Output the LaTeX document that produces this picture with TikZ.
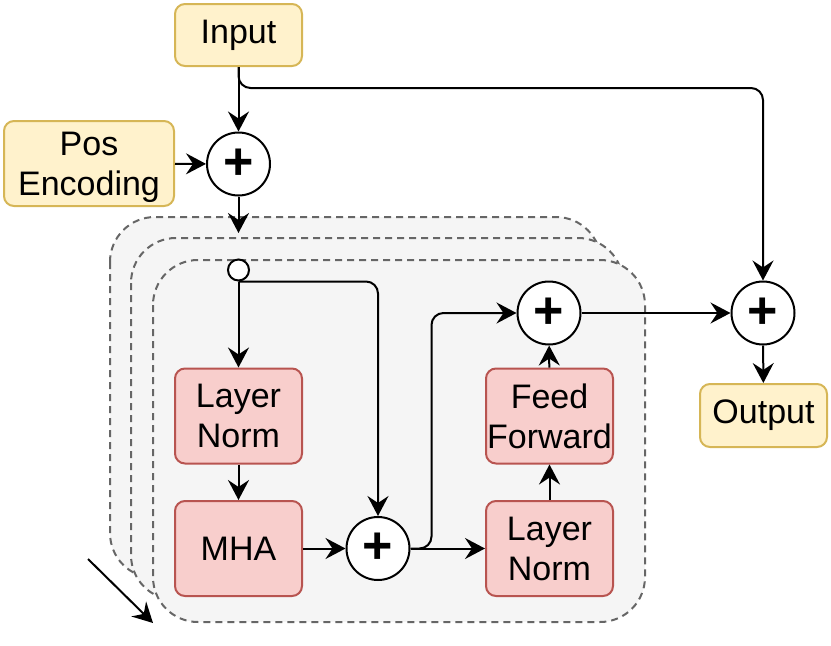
\documentclass[tikz,border=0pt]{standalone}
\usepackage{fontspec}
\setmainfont{Liberation Sans}
\usepackage{tikz}
\usetikzlibrary{arrows.meta, calc}
\definecolor{ylwfill}{HTML}{FFF2CC}
\definecolor{ylwline}{HTML}{D6B656}
\definecolor{redfill}{HTML}{F8CECC}
\definecolor{redline}{HTML}{B85450}
\definecolor{frmfill}{HTML}{F5F5F5}
\definecolor{frmline}{HTML}{666666}
\tikzset{
  arr/.style={-{Stealth[length=20pt,width=21pt,inset=7pt]}, line width=2pt, draw=black},
  iobox/.style={draw=ylwline, fill=ylwfill, line width=2pt, rounded corners=10pt,
    align=center, inner sep=0pt},
  opbox/.style={draw=redline, fill=redfill, line width=2pt, rounded corners=10pt,
    align=center, inner sep=0pt, minimum width=127pt, minimum height=95pt},
  addop/.style={circle, draw=black, fill=white, line width=2pt, minimum size=63pt,
    inner sep=0pt, font=\fontsize{52}{52}\selectfont\bfseries},
  tap/.style={circle, draw=black, fill=white, line width=2pt, minimum size=21pt, inner sep=0pt},
  blockframe/.style={draw=frmline, fill=frmfill, line width=2pt,
    dash pattern=on 7pt off 5pt, rounded corners=45pt}
}

\begin{document}
\begin{tikzpicture}[x=1pt, y=-1pt, font=\fontsize{34}{40}\selectfont]
\useasboundingbox (0,0) rectangle (831,646);
% ---------- stacked encoder blocks (drawn first) ----------
\draw[blockframe] (110,217) rectangle (601,578);
\draw[blockframe] (131,238) rectangle (623,600);
\draw[blockframe] (153,260) rectangle (645,622);
% ---------- inputs / outputs ----------
\node[iobox, minimum width=127pt, minimum height=62pt] (in) at (238.5,35) {Input};
\node[iobox, minimum width=170pt, minimum height=85pt] (pe) at (89,163.5) {Pos\\\smash{Encoding}};
\node[iobox, minimum width=127pt, minimum height=63pt] (out) at (763.5,415.5) {Output};
% ---------- adders ----------
\node[addop] (p1) at (238.5,164) {+};
\node[addop] (p2) at (378,548.5) {+};
\node[addop] (p3) at (549,313) {+};
\node[addop] (p4) at (763,313) {+};
% ---------- block contents ----------
\node[tap] (dot) at (238.5,270) {};
\node[opbox] (ln1) at (238.5,416) {Layer\\Norm};
\node[opbox] (mha) at (238.5,548.5) {MHA};
\node[opbox] (ln2) at (549.5,548.5) {Layer\\Norm};
\node[opbox] (ff) at (549.5,416) {Feed\\Forward};
\coordinate (blkin) at (238.5,233);
\coordinate (stk0) at (88,559);
\coordinate (stk1) at (153,623);
% ---------- connections ----------
\draw[arr] (in) -- (p1);
\draw[arr, rounded corners=12pt] (in.south) -- ++(0,21) -| (p4);
\draw[arr] (pe) -- (p1);
\draw[arr] (p1) -- (blkin);
\draw[arr] (dot) -- (ln1);
\draw[arr, rounded corners=12pt] (dot.south) -| (p2);
\draw[arr] (ln1) -- (mha);
\draw[arr] (mha) -- (p2);
\draw[arr] (p2) -- (ln2);
\draw[arr, rounded corners=12pt] (p2.east) -- ++(21,0) |- (p3);
\draw[arr] (ln2) -- (ff);
\draw[arr] (ff) -- (p3);
\draw[arr] (p3) -- (p4);
\draw[arr] (p4) -- (out);
\draw[arr] (stk0) -- (stk1);
\end{tikzpicture}
\end{document}
